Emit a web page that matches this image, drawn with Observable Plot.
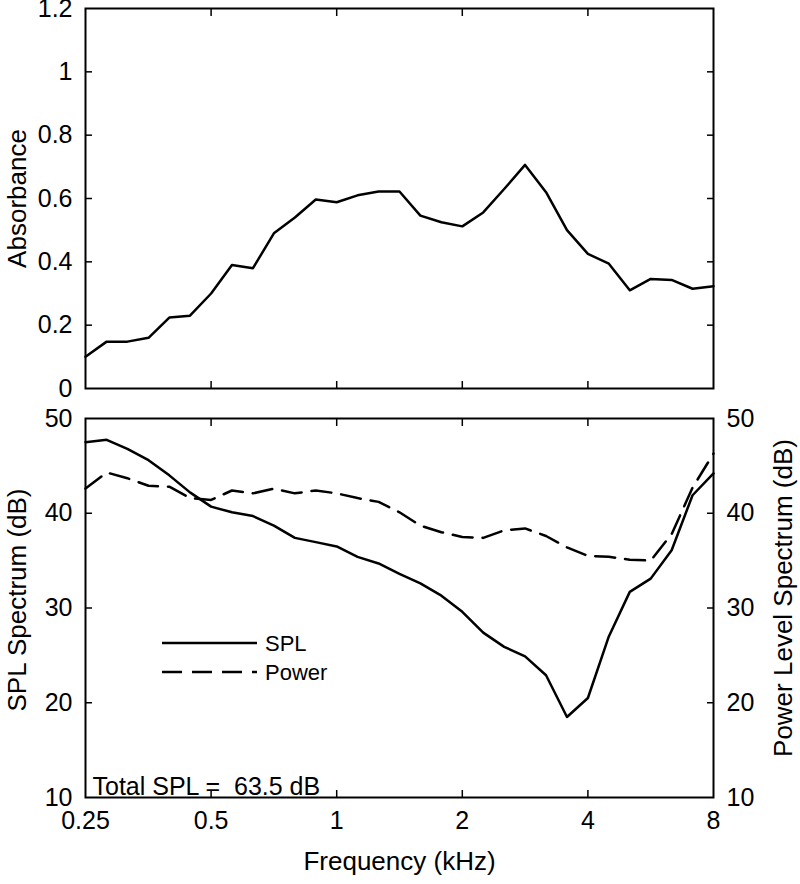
<!DOCTYPE html>
<html>
<head>
<meta charset="utf-8">
<script src="https://cdn.jsdelivr.net/npm/d3@7"></script>
<script src="https://cdn.jsdelivr.net/npm/@observablehq/plot@0.6"></script>
<style>
  body { margin: 0; background: #fff; }
  #chart { width: 800px; height: 884px; position: relative; }
  #chart svg { display: block; }
</style>
</head>
<body>
<div id="chart"></div>
<script>
// Frequencies (kHz), 1/6-octave spacing from 0.25 to 8
const freqs = [0.25, 0.281, 0.315, 0.354, 0.397, 0.445, 0.5, 0.561, 0.63, 0.707, 0.794, 0.891,
  1, 1.122, 1.26, 1.414, 1.587, 1.782, 2, 2.245, 2.52, 2.828, 3.175, 3.564, 4, 4.49, 5.04,
  5.657, 6.35, 7.127, 8];

// Top panel: absorbance
const absorbance = [0.10, 0.148, 0.148, 0.16, 0.224, 0.23, 0.30, 0.39, 0.38, 0.49, 0.54, 0.597,
  0.588, 0.61, 0.622, 0.622, 0.546, 0.525, 0.512, 0.556, 0.63, 0.706, 0.62, 0.50, 0.425, 0.394,
  0.31, 0.346, 0.343, 0.315, 0.323];

// Bottom panel: SPL spectrum (dB) and power level spectrum (dB)
const spl = [47.5, 47.75, 46.8, 45.6, 44.0, 42.2, 40.7, 40.1, 39.7, 38.7, 37.4, 36.95, 36.5, 35.4,
  34.7, 33.6, 32.6, 31.3, 29.6, 27.4, 25.9, 24.9, 22.9, 18.5, 20.5, 27.0, 31.7, 33.1, 36.1, 41.9, 44.2];
const power = [42.6, 44.3, 43.7, 42.9, 42.8, 41.6, 41.4, 42.4, 42.1, 42.6, 42.1, 42.4, 42.1, 41.6,
  41.2, 40.1, 38.7, 38.0, 37.5, 37.4, 38.2, 38.4, 37.6, 36.4, 35.5, 35.4, 35.1, 35.0, 37.8, 42.7, 46.3];

// Tick values / labels
const freqTickValues = [0.25, 0.5, 1, 2, 4, 8];
const freqTickLabels = ["0.25", "0.5", "1", "2", "4", "8"];
const freqInnerTicks = [0.5, 1, 2, 4];
const absTickValues = [0, 0.2, 0.4, 0.6, 0.8, 1, 1.2];
const absInnerTicks = [0.2, 0.4, 0.6, 0.8, 1];
const dbTickValues = [10, 20, 30, 40, 50];
const dbInnerTicks = [20, 30, 40];

// Texts
const xTitle = "Frequency (kHz)";
const absTitle = "Absorbance";
const splTitle = "SPL Spectrum (dB)";
const powerTitle = "Power Level Spectrum (dB)";
const totalLabel = "Total SPL =  63.5 dB";
const legendNames = ["SPL", "Power"];

const absRows = freqs.map((f, i) => ({f, a: absorbance[i]}));
const specRows = freqs.map((f, i) => ({f, spl: spl[i], power: power[i]}));
const freqTickRows = freqTickValues.map((v, i) => ({v, label: freqTickLabels[i]}));

const FONT = "'Liberation Sans', Arial, Helvetica, sans-serif";
const TICK_FS = 25;
const TITLE_FS = 26;
const common = {
  width: 800,
  marginLeft: 85,
  marginRight: 87,
  style: {fontFamily: FONT, fontSize: TICK_FS + "px", color: "black", background: "white", overflow: "visible"}
};
const xOpts = {type: "log", domain: [0.25, 8]};
const DASH = "20,10";

const topPlot = Plot.plot({
  ...common,
  height: 400,
  marginTop: 8,
  marginBottom: 12,
  x: xOpts,
  y: {domain: [0, 1.2]},
  marks: [
    Plot.axisY(absTickValues, {anchor: "left", tickSize: 0, tickPadding: 13, tickFormat: d => String(d), label: null, fontSize: TICK_FS}),
    Plot.axisY(absInnerTicks, {anchor: "left", tickSize: -7, fill: "none", strokeWidth: 1.5}),
    Plot.axisY(absInnerTicks, {anchor: "right", tickSize: -7, fill: "none", strokeWidth: 1.5}),
    Plot.axisX(freqInnerTicks, {anchor: "bottom", tickSize: -7, fill: "none", strokeWidth: 1.5}),
    Plot.axisX(freqInnerTicks, {anchor: "top", tickSize: -7, fill: "none", strokeWidth: 1.5}),
    Plot.frame({stroke: "black", strokeWidth: 2}),
    Plot.line(absRows, {x: "f", y: "a", stroke: "black", strokeWidth: 2.5}),
    Plot.text([absTitle], {frameAnchor: "left", dx: -68, rotate: -90, fontSize: TITLE_FS, lineAnchor: "middle", textAnchor: "middle"})
  ]
});

const bottomPlot = Plot.plot({
  ...common,
  height: 484,
  marginTop: 18,
  marginBottom: 87,
  x: xOpts,
  y: {domain: [10, 50]},
  marks: [
    Plot.axisY(dbTickValues, {anchor: "left", tickSize: 0, tickPadding: 13, label: null, fontSize: TICK_FS}),
    Plot.axisY(dbTickValues, {anchor: "right", tickSize: 0, tickPadding: 13, label: null, fontSize: TICK_FS}),
    Plot.axisY(dbInnerTicks, {anchor: "left", tickSize: -7, fill: "none", strokeWidth: 1.5}),
    Plot.axisY(dbInnerTicks, {anchor: "right", tickSize: -7, fill: "none", strokeWidth: 1.5}),
    // x tick labels, positioned by the x scale
    Plot.text(freqTickRows, {x: "v", text: "label", frameAnchor: "bottom", dy: 14, lineAnchor: "top", textAnchor: "middle", fontSize: TICK_FS}),
    Plot.axisX(freqInnerTicks, {anchor: "bottom", tickSize: -7, fill: "none", strokeWidth: 1.5}),
    Plot.axisX(freqInnerTicks, {anchor: "top", tickSize: -7, fill: "none", strokeWidth: 1.5}),
    Plot.frame({stroke: "black", strokeWidth: 2}),
    Plot.line(specRows, {x: "f", y: "spl", stroke: "black", strokeWidth: 2.5}),
    Plot.line(specRows, {x: "f", y: "power", stroke: "black", strokeWidth: 2.5, strokeDasharray: DASH}),
    Plot.text([totalLabel], {frameAnchor: "bottom-left", dx: 7, dy: -3, textAnchor: "start", lineAnchor: "bottom", fontSize: 25}),
    Plot.text([splTitle], {frameAnchor: "left", dx: -68, dy: -8, rotate: -90, fontSize: TITLE_FS, lineAnchor: "middle", textAnchor: "middle"}),
    Plot.text([powerTitle], {frameAnchor: "right", dx: 70, dy: -10, rotate: -90, fontSize: TITLE_FS, lineAnchor: "middle", textAnchor: "middle"}),
    Plot.text([xTitle], {frameAnchor: "bottom", dy: 64, fontSize: TITLE_FS, lineAnchor: "middle", textAnchor: "middle"})
  ]
});

const chart = document.getElementById("chart");
chart.append(topPlot, bottomPlot);

// Total label: keep double space
d3.select(bottomPlot).selectAll("text").filter(function () { return this.textContent === totalLabel; })
  .attr("xml:space", "preserve").style("white-space", "pre");

// Legend (inside bottom panel)
const lg = d3.select(bottomPlot).append("g")
  .attr("font-family", FONT).attr("font-size", 22).attr("text-anchor", "start");
const legendStyles = [null, DASH];
legendNames.forEach((name, i) => {
  const y = 243 + i * 29;
  lg.append("line").attr("x1", 162).attr("x2", 257).attr("y1", y).attr("y2", y)
    .attr("stroke", "black").attr("stroke-width", 2.5)
    .attr("stroke-dasharray", legendStyles[i]);
  lg.append("text").attr("x", 265).attr("y", y).attr("dy", "0.35em")
    .attr("text-anchor", "start").attr("fill", "black").text(name);
});
</script>
</body>
</html>
